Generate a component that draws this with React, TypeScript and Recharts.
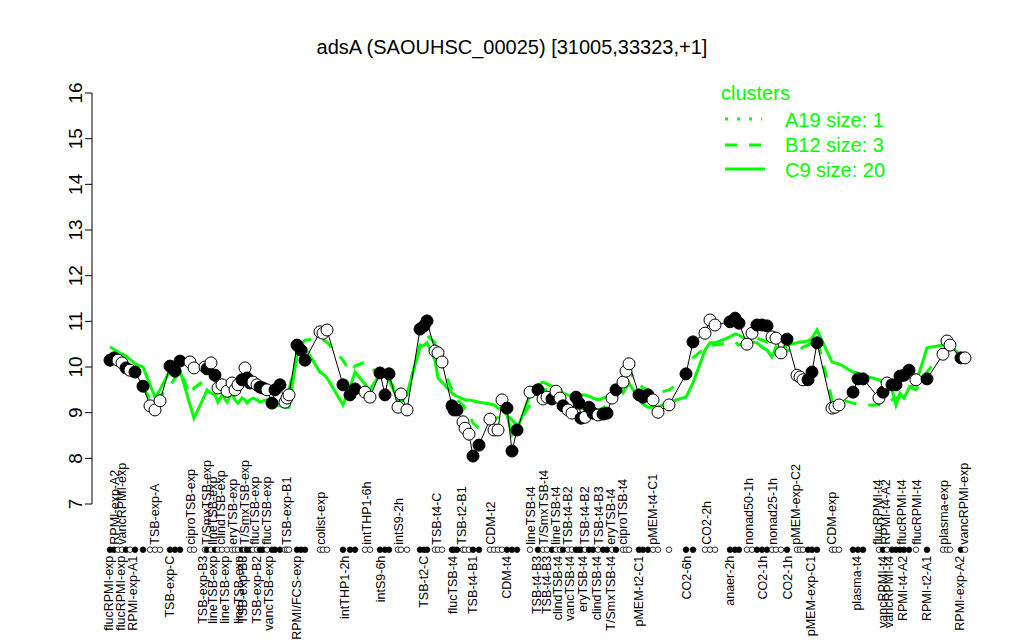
import React from "react";
import { ComposedChart, Line, XAxis, YAxis, ReferenceLine, Legend } from "recharts";

const GREEN = "#00ff00";
const FONT = "'Liberation Sans', Arial, Helvetica, sans-serif";
const DOT_ROW = 6; // level of the filled/open marker row under the axis

// condition slots along the x axis
const positions = [
  5, 7, 9, 11, 13, 15, 17.5, 21.5,
  25, 27.5, 30,
  35, 37.5, 40,
  45, 47,
  52.5, 53.5, 55.5, 57.5, 59, 61, 63.5, 66, 67.5, 69, 71, 72.5, 73.5, 75, 76.5, 78.5, 80, 81.5, 83.5, 86, 87.5, 90, 92.5, 93.5, 94.5,
  98.5, 100.5, 102.5,
  110, 111.5, 113.5,
  121.5, 125, 127.5, 132.5, 135,
  140, 142.5, 144.5,
  149, 150.5, 153.5,
  160, 162, 163.5,
  167.5, 169, 171,
  176, 177, 178.5, 181.5, 182.5, 184.5, 186.5, 189.5,
  195, 197, 199, 201, 203.5, 206, 208.5,
  215,
  219, 221.5, 223.5, 226, 228, 230, 231.5, 234, 236, 238, 239.5, 240.5, 242.5, 244.5, 246.5, 249, 251.5, 253.5, 256, 258, 261.5, 263, 264.5,
  269.5, 271.5, 274, 276.5, 279, 284.5,
  293, 296.5,
  302.5, 305, 307.5,
  315, 317.5, 319.5,
  323.5, 326, 328.5, 331, 333.5, 336, 338, 340.5, 343.5,
  348.5, 350, 351.5, 354, 356, 358.5,
  366, 367.5, 369.5,
  376.5, 379, 381.5,
  389.5, 391.5, 393.5, 396, 398, 400, 402, 404.5, 408,
  413.5,
  421.5, 423.5, 425,
  430.5, 432.5,
];

// adsA expression (log2)
const expression = [
  10.15, 10.2, 10.15, 10.09, 9.98, 9.93, 9.89, 9.58,
  9.15, 9.06, 9.26,
  10.02, 9.91, 10.13,
  10.11, 9.98,
  10.0, 9.96, 10.09, 9.82, 9.54, 9.61, 9.47, 9.65, 9.5, 9.61, 9.72, 9.98, 9.76, 9.65, 9.67, 9.61, 9.56, 9.54, 9.5, 9.21, 9.5, 9.61, 9.23, 9.32, 9.39,
  10.48, 10.37, 10.15,
  10.77, 10.74, 10.81,
  9.61, 9.39, 9.52, 9.45, 9.34,
  9.87, 9.39, 9.85,
  9.12, 9.41, 9.06,
  10.83, 10.9, 11.01,
  10.35, 10.31, 10.11,
  9.15, 9.06, 9.06, 8.8, 8.66, 8.53, 8.05, 8.29,
  8.86, 8.62, 8.62, 9.28, 9.1, 8.16, 8.62,
  9.45,
  9.5, 9.3, 9.34, 9.3, 9.47, 9.32, 9.15, 9.06, 8.99, 9.34, 9.21, 8.88, 8.9, 9.12, 8.99, 8.95, 8.97, 8.99, 9.32, 9.5, 9.67, 9.91, 10.07,
  9.39, 9.34, 9.39, 9.28, 9.01, 9.17,
  9.85, 10.55,
  10.74, 11.03, 10.92,
  10.99, 11.07, 10.96,
  10.5, 10.74, 10.92, 10.92, 10.9, 10.66, 10.63, 10.31, 10.61,
  9.82, 9.78, 9.72, 9.72, 9.89, 10.53,
  9.1, 9.12, 9.17,
  9.45, 9.74, 9.74,
  9.32, 9.45, 9.65, 9.61, 9.61, 9.8, 9.82, 9.93, 9.72,
  9.74,
  10.28, 10.57, 10.48,
  10.2, 10.2,
];

// 1 = filled marker, 0 = open marker
const filled = [
  1, 1, 0, 0, 1, 0, 1, 1,
  0, 0, 0,
  1, 1, 1,
  0, 0,
  0, 1, 0, 1, 0, 0, 0, 0, 0, 0, 1, 0, 1, 1, 0, 0, 1, 1, 0, 1, 1, 1, 0, 0, 0,
  1, 1, 1,
  0, 0, 0,
  1, 1, 1, 0, 0,
  1, 1, 1,
  0, 0, 0,
  1, 1, 1,
  0, 0, 0,
  1, 1, 1, 0, 0, 0, 1, 1,
  0, 0, 0, 0, 1, 1, 1,
  0,
  1, 0, 0, 1, 0, 0, 1, 0, 0, 1, 1, 1, 0, 1, 1, 0, 1, 1, 0, 1, 0, 0, 0,
  1, 1, 1, 0, 0, 0,
  1, 1,
  0, 0, 0,
  1, 1, 1,
  0, 0, 1, 1, 1, 0, 0, 0, 1,
  0, 0, 0, 1, 1, 1,
  0, 0, 0,
  1, 1, 1,
  0, 1, 0, 1, 1, 1, 1, 1, 0,
  1,
  0, 0, 0,
  1, 0,
];

// cluster C9 mean (size 20)
const clusterC9 = [
  10.44, 10.39, 10.33, 10.28, 10.24, 10.17, 10.07, 10.0,
  9.61, 9.34, 9.5,
  9.93, 9.98, 9.93,
  9.17, 8.88,
  9.39, 9.5, 9.43, 9.39, 9.23, 9.39, 9.23, 9.43, 9.28, 9.21, 9.32, 9.28, 9.21, 9.28, 9.32, 9.28, 9.23, 9.26, 9.28, 9.21, 9.19, 9.15, 9.12, 9.12, 9.12,
  10.26, 10.48, 10.42,
  9.89, 9.85, 9.76,
  9.17, 9.56, 9.89, 9.63, 9.5,
  9.85, 9.8, 9.72,
  9.28, 9.23, 9.41,
  10.44, 10.48, 10.53,
  10.15, 9.76, 9.67,
  9.43, 9.39, 9.36, 9.3, 9.28, 9.28, 9.26, 9.23,
  9.19, 9.17, 9.1, 9.06, 8.95, 8.51, 8.62,
  9.39,
  9.61, 9.67, 9.63, 9.58, 9.56, 9.5, 9.43, 9.39, 9.36, 9.34, 9.36, 9.39, 9.39, 9.36, 9.32, 9.28, 9.32, 9.36, 9.41, 9.58, 9.43, 9.54, 9.65,
  9.28, 9.19, 9.12, 9.12, 9.12, 9.23,
  9.34, 9.65,
  10.37, 10.53, 10.53,
  10.66, 10.72, 10.7,
  10.59, 10.55, 10.53, 10.44, 10.37, 10.22, 10.44, 10.33, 10.48,
  10.53, 10.55, 10.55, 10.57, 10.63, 10.81,
  10.11, 10.09, 10.07,
  9.89, 9.87, 9.82,
  9.72, 9.67, 9.61, 9.5, 9.17, 9.43, 9.32, 9.54, 9.65,
  10.42,
  10.48, 10.53, 10.48,
  10.24, 10.2,
];

// cluster B12 mean (size 3)
const clusterB12 = [
  10.15, 10.2, 10.13, 10.09, 10.0, 9.93, 9.87, 9.58,
  9.28, 9.17, 9.36,
  9.58, 9.76, 9.93,
  9.39, 9.54,
  9.72, 9.76, 9.8, 9.72, 9.54, 9.58, 9.5, 9.61, 9.5, 9.58, 9.67, 9.82, 9.72, 9.63, 9.65, 9.58, 9.54, 9.52, 9.47, 9.32, 9.45, 9.54, 9.39, 9.45, 9.5,
  10.26, 10.48, 10.59,
  10.63, 10.59, 10.55,
  10.15, 9.89, 10.02, 10.11, 10.02,
  9.8, 9.61, 9.72,
  9.43, 9.32, 9.39,
  10.48, 10.63, 10.7,
  10.53, 10.26, 10.02,
  9.5, 9.39, 9.28, 9.17, 9.1, 9.01, 8.77, 8.66,
  8.73, 8.84, 8.9, 8.99, 8.95, 8.84, 8.73,
  9.17,
  9.36, 9.5, 9.5, 9.43, 9.41, 9.32, 9.23, 9.17, 9.1, 9.21, 9.17, 9.1, 9.06, 9.1, 9.06, 9.06, 9.1, 9.17, 9.32, 9.45, 9.61, 9.76, 9.89,
  9.65, 9.54, 9.5, 9.45, 9.43, 9.5,
  9.76, 10.2,
  10.42, 10.48, 10.48,
  10.53, 10.55, 10.48,
  10.53, 10.59, 10.63, 10.59, 10.55, 10.48, 10.46, 10.37, 10.37,
  10.33, 10.37, 10.44, 10.48, 10.55, 10.63,
  9.28, 9.28, 9.3,
  9.21, 9.19, 9.17,
  9.17, 9.17, 9.21, 9.28, 9.32, 9.34, 9.5, 9.58, 9.5,
  9.89,
  10.33, 10.37, 10.37,
  10.2, 10.2,
];

// condition names printed above the marker row
const topLabelPos = [
  7.5, 11, 27.5, 45.5, 53.5, 56.5, 60.5, 66.5, 72.5, 77.5, 83.5, 93.5, 110.5, 133.5, 149.5, 168.5, 181, 195.5,
  215.5, 222, 228, 234, 242.5, 249.5, 255.5, 261.5, 276.5, 303.5, 324.5, 336.5, 348, 366, 389, 393, 401, 408.5, 422, 432,
];
const topLabelText = [
  "RPMI-exp-A2", "vancRPMI-exp", "TSB-exp-A", "ciproTSB-exp", "T/SmxTSB-exp", "lineTSB-exp", "clindTSB-exp",
  "eryTSB-exp", "T/SmxTSB-exp", "flucTSB-exp", "flucTSB-exp", "TSB-exp-B1", "colist-exp", "intTHP1-6h", "intS9-2h",
  "TSB-t4-C", "TSB-t2-B1", "CDM-t2", "lineTSB-t4", "T/SmxTSB-t4", "lineTSB-t4", "TSB-t4-B2", "TSB-t4-B2", "TSB-t4-B3",
  "eryTSB-t4", "ciproTSB-t4", "pMEM-t4-C1", "CO2-2h", "nonad50-1h", "nonad25-1h", "pMEM-exp-C2", "CDM-exp",
  "flucRPMI-t4", "RPMI-t4-A2", "flucRPMI-t4", "flucRPMI-t4", "plasma-exp", "vancRPMI-exp",
];

// condition names printed below the marker row
const bottomLabelPos = [
  4.5, 10.5, 16.5, 35, 51.5, 56.5, 62.5, 69.5, 71.5, 78.5, 84.5, 98.5, 122.5, 140.5, 162, 176.5, 186.5, 203.5,
  218.5, 223.5, 229, 235, 241.5, 248.5, 255.5, 269.5, 293.5, 315, 331.5, 344, 355.5, 378.5, 391.5, 394.5, 401.5, 413.5, 430,
];
const bottomLabelText = [
  "flucRPMI-exp", "flucRPMI-exp", "RPMI-exp-A1", "TSB-exp-C", "TSB-exp-B3", "lineTSB-exp", "lineTSB-exp",
  "lineTSB-exp", "TSB-exp-B3", "TSB-exp-B2", "vancTSB-exp", "RPMI/FCS-exp", "intTHP1-2h", "intS9-6h", "TSB-t2-C",
  "flucTSB-t4", "TSB-t4-B1", "CDM-t4", "TSB-t4-B3", "TSB-t4-B3", "clindTSB-t4", "vancTSB-t4", "eryTSB-t4",
  "clindTSB-t4", "T/SmxTSB-t4", "pMEM-t2-C1", "CO2-6h", "anaer-2h", "CO2-1h", "CO2-1h", "pMEM-exp-C1", "plasma-t4",
  "vancRPMI-t4", "vancRPMI-t4", "RPMI-t4-A2", "RPMI-t2-A1", "RPMI-exp-A2",
];

const yTicks = [7, 8, 9, 10, 11, 12, 13, 14, 15, 16];

const rows = positions.map((pos, i) => ({
  pos,
  expr: expression[i],
  c9: clusterC9[i],
  b12: clusterB12[i],
  filled: filled[i] === 1,
  row: DOT_ROW,
}));

const topMap = new Map(topLabelPos.map((p, i) => [p, topLabelText[i]]));
const bottomMap = new Map(bottomLabelPos.map((p, i) => [p, bottomLabelText[i]]));
const labelTicks = Array.from(new Set([...topLabelPos, ...bottomLabelPos])).sort((a, b) => a - b);

const renderPoint = (props: any) => {
  const { cx, cy, payload, index } = props;
  if (cx == null || cy == null) return <g key={`pt-${index}`} />;
  return (
    <circle key={`pt-${index}`} cx={cx} cy={cy} r={6} fill={payload.filled ? "#000" : "#fff"} stroke="#000" strokeWidth={1} />
  );
};

const renderRowDot = (props: any) => {
  const { cx, cy, payload, index } = props;
  if (cx == null || cy == null) return <g key={`rd-${index}`} />;
  return (
    <circle key={`rd-${index}`} cx={cx} cy={cy} r={2.8} fill={payload.filled ? "#000" : "#fff"} stroke="#000" strokeWidth={0.8} />
  );
};

const renderLabelTick = (props: any) => {
  const { x, y, payload } = props;
  const top = topMap.get(payload.value);
  const bottom = bottomMap.get(payload.value);
  const ty = y - 5;
  const by = y + 6;
  return (
    <g>
      {top && (
        <text x={x} y={ty} transform={`rotate(-90, ${x}, ${ty})`} textAnchor="start" dy="0.35em"
          fontSize={12.5} fontFamily={FONT} fill="#000">
          {top}
        </text>
      )}
      {bottom && (
        <text x={x} y={by} transform={`rotate(-90, ${x}, ${by})`} textAnchor="end" dy="0.35em"
          fontSize={12.5} fontFamily={FONT} fill="#000">
          {bottom}
        </text>
      )}
    </g>
  );
};

const renderYTick = (props: any) => {
  const { x, y, payload } = props;
  const tx = x - 8;
  return (
    <text x={tx} y={y} transform={`rotate(-90, ${tx}, ${y})`} textAnchor="middle" dy="0.35em"
      fontSize={19} fontFamily={FONT} fill="#000">
      {payload.value}
    </text>
  );
};

const renderLegend = () => (
  <svg width={260} height={120} style={{ display: "block" }}>
    <text x={21} y={30} fill={GREEN} fontSize={20} fontFamily={FONT}>clusters</text>
    <line x1={25} x2={62} y1={49} y2={49} stroke={GREEN} strokeWidth={3} strokeDasharray="3 9" />
    <text x={85} y={57} fill={GREEN} fontSize={20} fontFamily={FONT}>A19 size: 1</text>
    <line x1={25} x2={61} y1={75} y2={75} stroke={GREEN} strokeWidth={3} strokeDasharray="12 12" />
    <text x={85} y={82} fill={GREEN} fontSize={20} fontFamily={FONT}>B12 size: 3</text>
    <line x1={25} x2={65} y1={99} y2={99} stroke={GREEN} strokeWidth={3} />
    <text x={85} y={107} fill={GREEN} fontSize={20} fontFamily={FONT}>C9 size: 20</text>
  </svg>
);

export default function App() {
  return (
    <div style={{ position: "absolute", left: 0, top: 0, width: 1024, height: 640, background: "#fff", fontFamily: FONT }}>
      <div style={{ position: "absolute", left: 0, top: 35, width: 1024, textAlign: "center", fontSize: 20, lineHeight: "24px", color: "#000" }}>
        adsA (SAOUHSC_00025) [31005,33323,+1]
      </div>
      <ComposedChart width={1024} height={640} data={rows} margin={{ top: 93, right: 44, bottom: 60.3, left: 62 }}>
        <XAxis
          dataKey="pos"
          type="number"
          domain={[-4, 440]}
          ticks={labelTicks}
          interval={0}
          axisLine={false}
          tickLine={false}
          tickSize={0}
          tickMargin={0}
          height={30}
          tick={renderLabelTick}
        />
        <YAxis
          type="number"
          domain={[6, 16]}
          ticks={yTicks}
          interval={0}
          width={30}
          axisLine={false}
          tickSize={7}
          tickLine={{ stroke: "#000" }}
          tick={renderYTick}
        />
        <ReferenceLine segment={[{ x: -4, y: 7 }, { x: -4, y: 16 }]} stroke="#000" strokeWidth={1} />
        <Line dataKey="b12" stroke={GREEN} strokeWidth={3} strokeDasharray="12 12" dot={false} activeDot={false} isAnimationActive={false} />
        <Line dataKey="c9" stroke={GREEN} strokeWidth={3} dot={false} activeDot={false} isAnimationActive={false} />
        <Line dataKey="expr" stroke="#000" strokeWidth={1} dot={renderPoint} activeDot={false} isAnimationActive={false} />
        <Line dataKey="row" stroke="none" dot={renderRowDot} activeDot={false} isAnimationActive={false} />
        <Legend
          layout="vertical"
          align="center"
          verticalAlign="middle"
          wrapperStyle={{ left: 700, top: 70, width: 260, height: 120 }}
          content={renderLegend}
        />
      </ComposedChart>
    </div>
  );
}
